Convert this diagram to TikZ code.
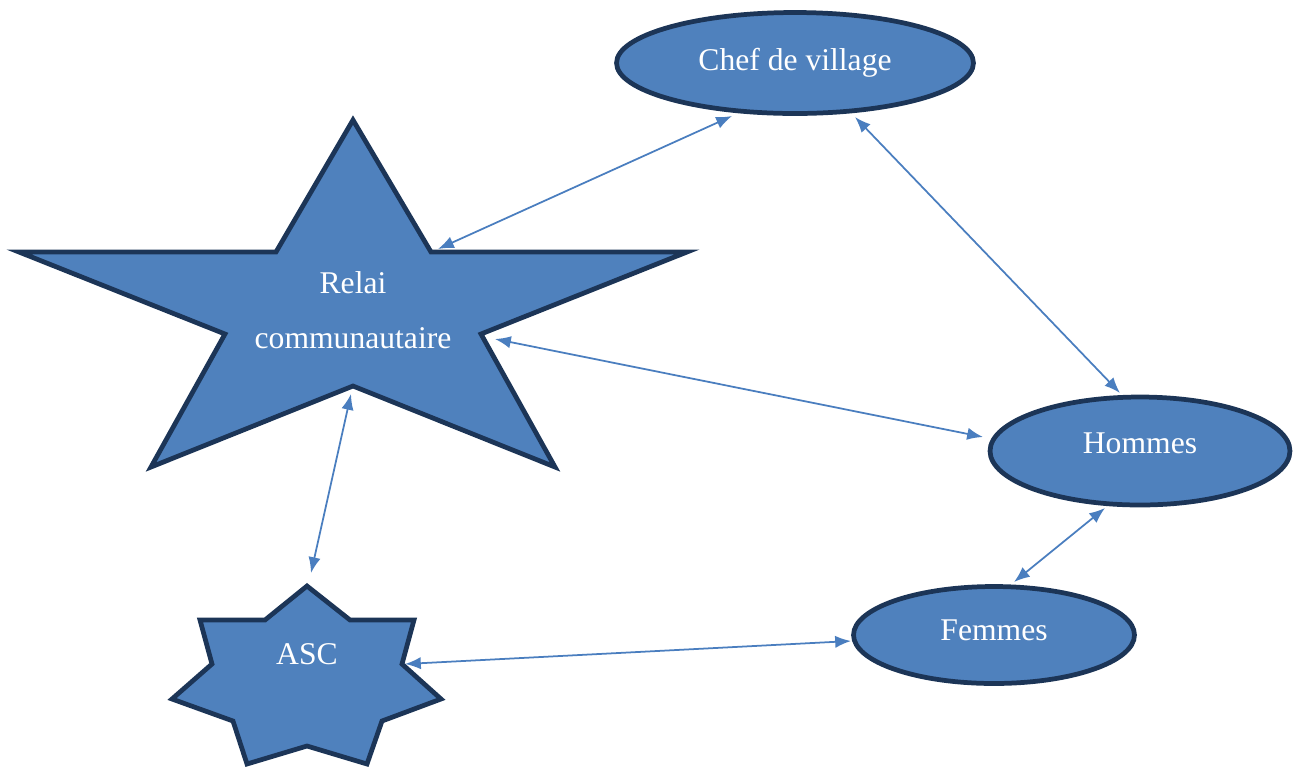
\documentclass[tikz,border=0pt]{standalone}
\usepackage{fontspec}
\setmainfont{Liberation Serif}
\usetikzlibrary{shapes.geometric,arrows.meta}
\definecolor{fillblue}{HTML}{4F81BD}
\definecolor{edgenavy}{HTML}{1C3557}
\definecolor{linkblue}{HTML}{4A7EBF}
\begin{document}
\begin{tikzpicture}[x=0.02cm,y=-0.02cm,
  shapebox/.style={fill=fillblue,draw=edgenavy,line width=2.7pt,line join=miter},
  oval/.style={shapebox,ellipse,inner sep=0pt},
  lbl/.style={text=white,font=\fontsize{18}{22}\selectfont,anchor=base,inner sep=0pt},
  link/.style={draw=linkblue,line width=1pt,{Latex[length=9pt,width=7pt]}-{Latex[length=9pt,width=7pt]}}]
\useasboundingbox (0,0) rectangle (1299,769);

% ellipses
\node[oval,minimum width=7.14cm,minimum height=2.02cm] (chef) at (795,63) {};
\node[oval,minimum width=6.0cm,minimum height=2.16cm] (hommes) at (1140,451) {};
\node[oval,minimum width=5.62cm,minimum height=1.94cm] (femmes) at (994,635) {};

% five-point star (Relai communautaire)
\coordinate (r1) at (353,120);
\coordinate (r2) at (431,252);
\coordinate (r3) at (687,252);
\coordinate (r4) at (481,334);
\coordinate (r5) at (555,467);
\coordinate (r6) at (353,386);
\coordinate (r7) at (151,467);
\coordinate (r8) at (225,334);
\coordinate (r9) at (19,252);
\coordinate (r10) at (276,252);
\draw[shapebox] (r1) -- (r2) -- (r3) -- (r4) -- (r5) -- (r6) -- (r7) -- (r8) -- (r9) -- (r10) -- cycle;

% eight-point star (ASC)
\coordinate (a1) at (307,586);
\coordinate (a2) at (350,620);
\coordinate (a3) at (414,620);
\coordinate (a4) at (402,664);
\coordinate (a5) at (441,699);
\coordinate (a6) at (382,721);
\coordinate (a7) at (367,764);
\coordinate (a8) at (307,746);
\coordinate (a9) at (247,764);
\coordinate (a10) at (233,721);
\coordinate (a11) at (172,699);
\coordinate (a12) at (212,664);
\coordinate (a13) at (200,620);
\coordinate (a14) at (265,620);
\draw[shapebox] (a1) -- (a2) -- (a3) -- (a4) -- (a5) -- (a6) -- (a7) -- (a8) -- (a9) -- (a10) -- (a11) -- (a12) -- (a13) -- (a14) -- cycle;

% labels
\node[lbl] (chefT) at (795,70) {Chef de village};
\node[lbl] (relaiT1) at (353,293) {Relai};
\node[lbl] (relaiT2) at (353,348) {communautaire};
\node[lbl] (hommesT) at (1140,453) {Hommes};
\node[lbl] (femmesT) at (994,640) {Femmes};
\node[lbl] (ascT) at (307,664) {ASC};

% connector end points
\coordinate (cR) at (732,116);
\coordinate (rC) at (438,249);
\coordinate (cH) at (855,117);
\coordinate (hC) at (1120,393);
\coordinate (rH) at (495,339);
\coordinate (hR) at (983,437);
\coordinate (rA) at (351,394);
\coordinate (aR) at (311,573);
\coordinate (hF) at (1105,508);
\coordinate (fH) at (1014,582);
\coordinate (aF) at (405,664);
\coordinate (fA) at (851,641);

\draw[link] (rC) -- (cR);
\draw[link] (cH) -- (hC);
\draw[link] (rH) -- (hR);
\draw[link] (rA) -- (aR);
\draw[link] (fH) -- (hF);
\draw[link] (aF) -- (fA);
\end{tikzpicture}
\end{document}
